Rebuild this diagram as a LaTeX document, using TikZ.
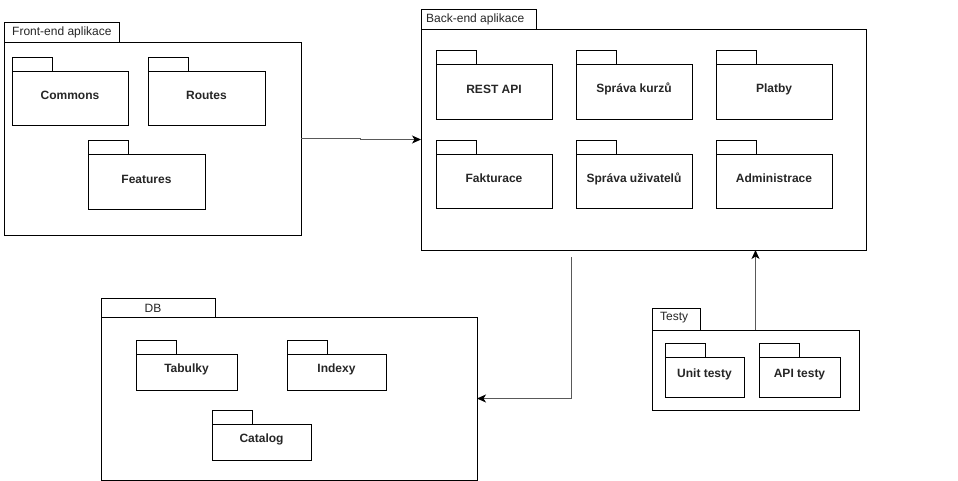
\documentclass[tikz,border=0pt]{standalone}
\usepackage{fontspec}
\setmainfont{Liberation Sans}
\usetikzlibrary{arrows.meta,calc}
\tikzset{
  boxline/.style={draw=black, line width=0.9pt, fill=white, inner sep=0pt, outer sep=0pt},
  tabbox/.style={boxline, anchor=north west},
  bodybox/.style={boxline, anchor=north west},
  pkglabel/.style={font=\fontsize{12}{14}\selectfont\bfseries, text=black!85, inner sep=0pt},
  tablabel/.style={font=\fontsize{12}{14}\selectfont, text=black!85, inner sep=0pt},
  conn/.style={draw=black!65, line width=1pt, -{Stealth[length=9pt,width=8pt,inset=2.5pt,color=black]}}
}
% name, x1, tabtop, x2, bodybottom, label
\newcommand{\smallpkg}[6]{%
  \node[tabbox, minimum width=40pt, minimum height=14pt] (#1tab) at (#2,#3) {};
  \pgfmathsetmacro{\pkw}{#4-#2}%
  \pgfmathsetmacro{\pkh}{#5-#3-14}%
  \node[bodybox, minimum width=\pkw pt, minimum height=\pkh pt] (#1) at (#2,#3+14) {};
  \node[pkglabel] (#1lbl) at ($(#1.center)+(0,-2.5)$) {#6};
}
\begin{document}
\begin{tikzpicture}[x=1pt,y=-1pt]
\useasboundingbox[fill=white] (0,0) rectangle (958,481);

% Front-end
\node[tabbox, minimum width=115pt, minimum height=20pt] (fetab) at (4,22) {};
\node[tablabel, anchor=west] (felbl) at (12,32) {Front-end aplikace};
\node[bodybox, minimum width=297pt, minimum height=193pt] (fe) at (4,42) {};
\smallpkg{commons}{12}{57}{128}{125}{Commons}
\smallpkg{routes}{148}{57}{265}{125}{Routes}
\smallpkg{features}{88}{140}{205}{209}{Features}

% Back-end
\node[tabbox, minimum width=115pt, minimum height=20pt] (betab) at (421,9) {};
\node[tablabel, anchor=west] (belbl) at (426,19) {Back-end aplikace};
\node[bodybox, minimum width=445pt, minimum height=221pt] (be) at (421,29) {};
\smallpkg{rest}{436}{50}{552}{119}{REST API}
\smallpkg{kurzy}{576}{50}{692}{119}{Správa kurzů}
\smallpkg{platby}{716}{50}{832}{119}{Platby}
\smallpkg{fakt}{436}{140}{552}{208}{Fakturace}
\smallpkg{uziv}{576}{140}{692}{208}{Správa uživatelů}
\smallpkg{admin}{716}{140}{832}{208}{Administrace}

% DB
\node[tabbox, minimum width=114pt, minimum height=19pt] (dbtab) at (101,298) {};
\node[tablabel] (dblbl) at (153,308) {DB};
\node[bodybox, minimum width=376pt, minimum height=163pt] (db) at (101,317) {};
\smallpkg{tab}{136}{340}{237}{390}{Tabulky}
\smallpkg{idx}{287}{340}{386}{390}{Indexy}
\smallpkg{cat}{212}{410}{311}{460}{Catalog}

% Testy
\node[tabbox, minimum width=48pt, minimum height=22pt] (testtab) at (652,308) {};
\node[tablabel, anchor=west] (testlbl) at (660,318) {Testy};
\node[bodybox, minimum width=207pt, minimum height=80pt] (test) at (652,330) {};
\smallpkg{unit}{665}{343}{744}{397}{Unit testy}
\smallpkg{api}{759}{343}{840}{397}{API testy}

% connectors
\draw[conn] (fe.east) -- ++(59,0) |- (be.west);
\coordinate (bestart) at (571,257);
\draw[conn] (bestart) |- (db.east);
\draw[conn] (test.north) -- (test.north |- be.south);
\end{tikzpicture}
\end{document}
